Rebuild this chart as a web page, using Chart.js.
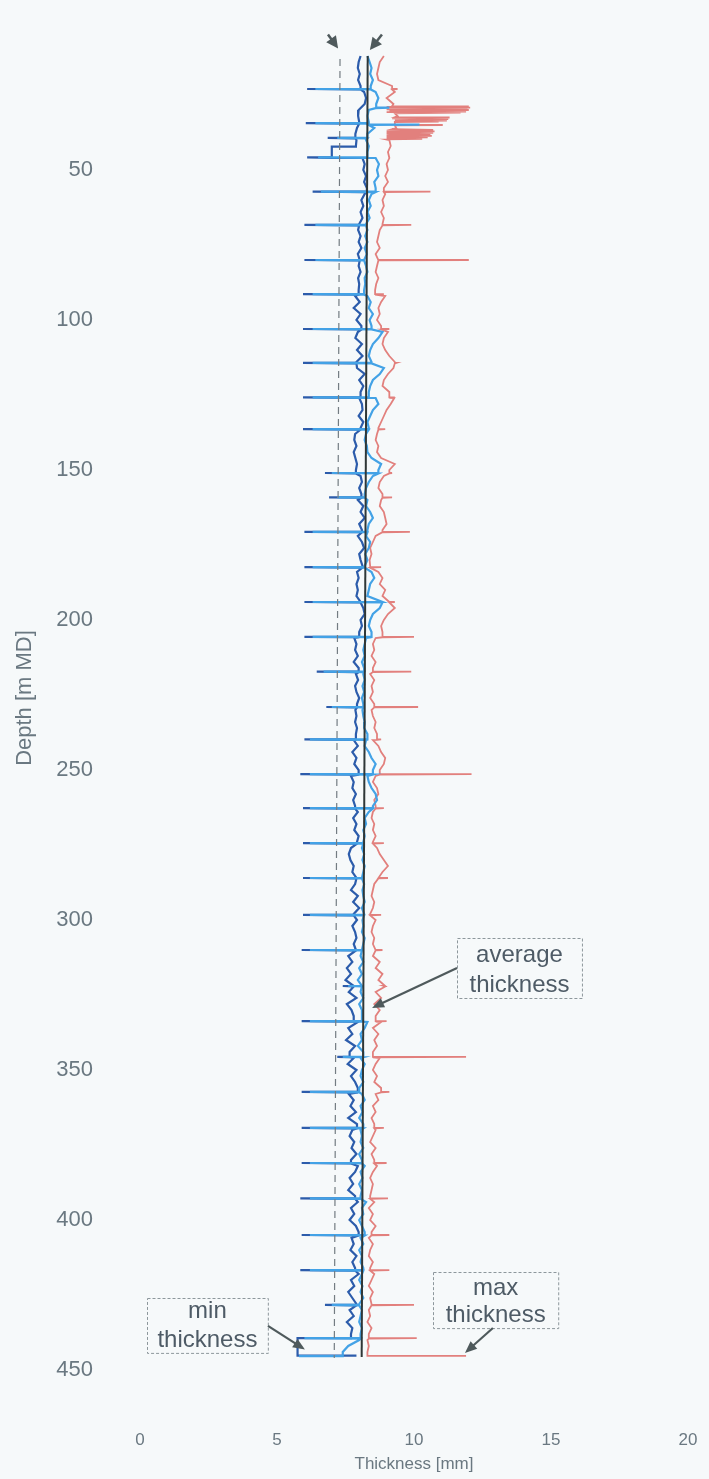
<!DOCTYPE html>
<html><head><meta charset="utf-8">
<script src="https://cdn.jsdelivr.net/npm/chart.js@4.4.0/dist/chart.umd.min.js"></script>
<style>html,body{margin:0;padding:0;background:#f6f9fa;} canvas{display:block;}</style>
</head><body>
<canvas id="c" width="709" height="1479"></canvas>
<script>
// ---------- DATA ----------
const xTicks = [0, 5, 10, 15, 20];
const yTicks = [50, 100, 150, 200, 250, 300, 350, 400, 450];

const depthGrid = [
12,14,16,18,20,22,24,26,28,30,
32,34,36,38,40,42,44,46,48,50,
52,54,56,58,60,62,64,66,68,70,
72,74,76,78,80,82,84,86,88,90,
92,94,96,98,100,102,104,106,108,110,
112,114,116,118,120,122,124,126,128,130,
132,134,136,138,140,142,144,146,148,150,
152,154,156,158,160,162,164,166,168,170,
172,174,176,178,180,182,184,186,188,190,
192,194,196,198,200,202,204,206,208,210,
212,214,216,218,220,222,224,226,228,230,
232,234,236,238,240,242,244,246,248,250,
252,254,256,258,260,262,264,266,268,270,
272,274,276,278,280,282,284,286,288,290,
292,294,296,298,300,302,304,306,308,310,
312,314,316,318,320,322,324,326,328,330,
332,334,336,338,340,342,344,346,348,350,
352,354,356,358,360,362,364,366,368,370,
372,374,376,378,380,382,384,386,388,390,
392,394,396,398,400,402,404,406,408,410,
412,414,416,418,420,422,424,426,428,430,
432,434,436,438,440,442,444];

// min thickness (dark blue) baseline
const minBase = [
8.05,7.98,7.95,8.02,7.96,8.05,8.18,8.25,8.2,7.98,
7.96,8.0,7.92,7.86,7.9,7.88,7.0,8.12,8.2,8.15,
8.25,8.18,8.28,8.2,8.08,8.15,8.05,8.12,8.0,7.96,
8.05,7.98,8.08,7.95,8.02,7.98,8.05,7.96,8.0,7.98,
7.85,8.02,7.8,8.05,7.9,8.08,7.95,7.86,8.1,7.92,
8.12,7.9,7.92,8.2,8.0,8.15,8.05,8.0,8.1,8.12,
7.98,8.15,8.05,7.85,7.82,7.9,7.8,7.86,7.92,7.88,
8.05,8.1,8.0,8.08,7.95,8.15,8.05,8.2,8.0,8.1,
7.95,8.1,8.18,8.0,8.05,8.12,7.92,7.98,7.9,7.95,
7.9,8.05,8.15,8.2,8.05,8.1,8.0,7.82,7.9,7.85,
7.95,7.8,7.98,7.88,7.96,7.85,7.9,8.0,7.92,7.86,
7.9,7.85,7.92,7.88,7.8,7.95,7.75,7.9,7.82,7.98,
7.7,7.8,7.75,7.88,7.78,7.85,7.95,7.78,7.9,7.82,
7.98,7.92,7.7,7.62,7.68,7.8,7.75,7.9,7.85,7.7,
7.95,7.78,8.0,7.8,7.92,7.75,7.85,7.9,7.8,7.88,
7.6,7.75,7.55,7.7,7.5,7.8,7.62,7.9,7.55,7.72,
7.8,7.95,7.6,7.75,7.52,7.85,7.65,7.8,7.58,7.9,
7.7,7.85,7.95,7.62,7.8,7.68,7.88,7.6,7.92,7.75,
7.65,7.82,7.72,7.9,7.7,7.95,7.85,7.65,7.78,7.6,
7.85,7.95,7.7,7.82,7.65,7.88,7.98,7.72,7.8,7.68,
7.9,7.75,7.85,7.98,7.7,7.82,7.6,7.75,7.9,7.65,
7.8,7.55,7.75,7.7,5.75,5.75,5.75];

// mid (light blue) baseline
const midBase = [
8.3,8.38,8.45,8.4,8.5,8.42,8.6,8.7,8.62,8.35,
8.3,8.35,8.55,8.3,8.25,8.35,8.3,8.6,8.72,8.65,
8.7,8.55,8.6,8.45,8.35,8.42,8.3,8.38,8.25,8.3,
8.22,8.3,8.2,8.28,8.18,8.25,8.3,8.2,8.22,8.18,
8.3,8.42,8.35,8.5,8.38,8.45,8.85,8.7,8.5,8.4,
8.35,8.45,8.9,8.75,8.5,8.4,8.35,8.6,8.7,8.5,
8.4,8.3,8.35,8.25,8.2,8.28,8.3,8.45,8.8,8.7,
8.5,8.35,8.25,8.2,8.3,8.25,8.4,8.5,8.35,8.3,
8.25,8.4,8.35,8.22,8.3,8.2,8.45,8.55,8.4,8.35,
8.3,8.85,8.75,8.5,8.4,8.35,8.45,8.25,8.2,8.15,
8.2,8.1,8.18,8.15,8.2,8.12,8.18,8.1,8.15,8.12,
8.15,8.2,8.18,8.3,8.25,8.2,8.35,8.45,8.6,8.5,
8.3,8.35,8.45,8.6,8.65,8.5,8.35,8.2,8.25,8.15,
8.2,8.15,8.1,8.18,8.12,8.2,8.15,8.1,8.18,8.12,
8.15,8.2,8.1,8.18,8.12,8.15,8.1,8.2,8.15,8.1,
8.05,8.15,8.0,8.1,7.95,8.1,8.05,8.15,8.0,8.1,
8.1,8.3,8.2,8.05,8.1,7.95,8.15,8.05,8.2,8.1,
8.05,8.15,8.0,8.1,8.2,8.05,8.12,8.0,8.15,8.05,
8.1,8.05,8.15,8.0,8.1,8.2,8.05,8.12,8.0,8.1,
8.05,8.25,8.1,8.15,8.0,8.1,8.2,8.05,8.15,8.0,
8.1,8.05,8.15,8.1,8.0,8.12,8.05,8.15,8.0,8.1,
8.05,8.0,8.1,8.05,8.0,7.6,7.4];

// max thickness (red) baseline
const maxBase = [
8.9,8.75,8.7,8.65,8.7,9.2,9.3,9.0,9.25,9.5,
9.4,9.3,9.35,9.2,9.1,9.15,9.05,9.1,9.0,9.05,
8.95,9.05,8.9,8.95,8.85,8.9,8.8,8.9,8.85,8.75,
8.7,8.65,8.75,8.6,8.7,8.65,8.6,8.7,8.62,8.58,
8.95,8.8,8.7,8.75,8.65,8.8,9.05,8.9,8.85,8.95,
9.1,9.3,9.25,9.05,8.9,8.85,9.1,9.28,9.15,9.0,
8.9,8.8,8.7,8.65,8.6,8.7,8.65,8.8,9.3,9.1,
8.9,8.75,8.7,8.85,8.8,8.75,8.9,8.95,9.0,8.85,
8.6,8.5,8.4,8.45,8.38,8.4,8.7,8.85,8.75,8.95,
8.85,9.1,9.3,9.05,8.9,8.8,8.85,8.6,8.5,8.55,
8.45,8.6,8.5,8.4,8.55,8.45,8.5,8.4,8.55,8.45,
8.5,8.6,8.55,8.65,8.5,8.7,8.8,8.95,8.9,8.75,
8.6,8.5,8.65,8.7,8.55,8.6,8.5,8.45,8.55,8.5,
8.6,8.5,8.65,8.75,8.9,9.05,8.85,8.7,8.55,8.5,
8.45,8.55,8.5,8.4,8.6,8.5,8.45,8.55,8.5,8.6,
8.5,8.75,8.6,8.85,8.7,8.95,8.6,8.8,8.55,8.75,
8.6,8.8,8.5,8.7,8.55,8.65,8.5,8.75,8.6,8.5,
8.65,8.55,8.8,8.6,8.7,8.5,8.6,8.45,8.55,8.6,
8.5,8.4,8.6,8.45,8.55,8.65,8.5,8.4,8.5,8.45,
8.4,8.55,8.35,8.5,8.4,8.6,8.45,8.35,8.5,8.4,
8.35,8.5,8.4,8.55,8.45,8.35,8.5,8.4,8.45,8.35,
8.4,8.3,8.45,8.35,8.3,8.35,8.3];

// casing-joint spikes
const jointDepth = [23.0,34.4,39.3,45.8,57.2,68.3,80.0,91.4,103.0,114.3,125.8,136.4,151.0,159.1,170.6,182.4,194.0,205.6,217.2,229.0,239.8,251.4,262.7,274.4,286.0,298.3,310.0,322.0,333.7,345.6,357.3,369.3,381.0,392.8,405.0,416.7,428.3,439.4];
const minSpike = [6.1,6.05,6.85,6.1,6.3,6.0,6.0,5.95,5.95,5.95,5.95,5.95,6.75,6.9,6.0,6.0,6.0,6.0,6.45,6.8,6.0,5.85,5.95,5.95,5.95,5.95,5.9,7.4,5.9,7.2,5.9,5.9,5.9,5.85,5.9,5.85,6.75,null];
const midSpike = [6.4,6.4,7.2,6.5,6.6,6.4,6.4,6.3,6.3,6.3,6.3,6.3,7.0,7.2,6.3,6.3,6.3,6.3,6.7,7.0,6.2,6.2,6.2,6.2,6.2,6.2,6.2,7.6,6.2,7.4,6.2,6.2,6.2,6.2,6.2,6.2,7.0,6.0];
const maxSpike = [9.4,null,null,null,10.6,9.9,12.0,8.9,9.1,9.35,9.3,8.95,9.2,9.2,9.85,8.8,9.3,10.0,9.9,10.15,8.8,12.1,8.9,8.9,9.05,8.8,8.85,8.9,9.0,11.9,9.1,8.9,9.0,9.05,9.1,9.1,10.0,10.1];

// extra traced points (boxes, bands, ends)
const minExtraDepth = [42.2,42.2,439.4,439.4,445.2,445.2];
const minExtraVal   = [7.88,7.0,7.7,5.75,5.75,7.9];
const midExtraDepth = [29.1,29.2,29.4,34.8,34.9,35.0,445.4,445.4];
const midExtraVal   = [8.62,9.1,8.6,8.35,10.2,8.35,7.4,5.8];
const maxExtraDepth = [28.7,28.8,29.0,29.2,29.4,29.6,29.8,30.0,30.3,30.5,30.7,30.9,31.1,
  32.4,32.5,32.8,33.0,33.3,33.5,33.8,33.9,34.0,34.9,35.0,35.1,
  36.4,36.6,36.9,37.1,37.4,37.6,37.9,38.1,38.4,38.6,38.9,39.1,39.4,39.6,39.8,445.3,445.3];
const maxExtraVal = [9.2,12.0,9.0,12.05,9.1,11.95,9.0,12.0,9.1,11.9,9.0,11.7,9.3,
  9.3,11.3,9.2,11.25,9.3,11.2,9.3,10.9,9.3,9.3,11.05,9.3,
  9.2,10.7,9.0,10.75,9.0,10.7,9.0,10.6,9.0,10.65,9.0,10.5,9.0,10.3,9.0,8.3,11.9];

const avgDepth = [12, 445.7];
const avgVal = [8.31, 8.09];
const dashDepth = [13, 446];
const dashVal = [7.30, 7.09];

// ---------- BUILD POINTS ----------
function buildSeries(base, spikes, exD, exV) {
  const extras = [];
  jointDepth.forEach((d, i) => {
    const s = spikes[i];
    if (s === null || s === undefined) return;
    let b = base[0];
    for (let k = 0; k < depthGrid.length; k++) if (depthGrid[k] <= d) b = base[k];
    extras.push({x: b, y: d}, {x: s, y: d}, {x: b, y: d + 0.15});
  });
  exD.forEach((d, i) => extras.push({x: exV[i], y: d}));
  extras.sort((a, b) => a.y - b.y);
  const pts = [];
  let j = 0;
  for (let i = 0; i < depthGrid.length; i++) {
    while (j < extras.length && extras[j].y < depthGrid[i]) pts.push(extras[j++]);
    pts.push({x: base[i], y: depthGrid[i]});
  }
  while (j < extras.length) pts.push(extras[j++]);
  return pts;
}
const pair = (d, v) => d.map((dd, i) => ({x: v[i], y: dd}));

const FONT = "'Liberation Sans', Arial, Helvetica, sans-serif";
const TXT = '#6a7881';

const annot = {
  id: 'annot',
  afterDatasetsDraw(chart) {
    const {ctx, scales: {x, y}} = chart;
    const X = v => x.getPixelForValue(v), Y = d => y.getPixelForValue(d);
    ctx.save();
    const col = '#4f5a5c';
    function arrow(x1, y1, x2, y2, w, hl, hw) {
      const a = Math.atan2(y2 - y1, x2 - x1);
      ctx.strokeStyle = col; ctx.fillStyle = col; ctx.lineWidth = w; ctx.setLineDash([]);
      ctx.beginPath(); ctx.moveTo(x1, y1);
      ctx.lineTo(x2 - Math.cos(a) * hl * 0.8, y2 - Math.sin(a) * hl * 0.8); ctx.stroke();
      ctx.beginPath(); ctx.moveTo(x2, y2);
      ctx.lineTo(x2 - Math.cos(a) * hl + Math.sin(a) * hw, y2 - Math.sin(a) * hl - Math.cos(a) * hw);
      ctx.lineTo(x2 - Math.cos(a) * hl - Math.sin(a) * hw, y2 - Math.sin(a) * hl + Math.cos(a) * hw);
      ctx.closePath(); ctx.fill();
    }
    function box(x1, d1, x2, d2, lines) {
      ctx.strokeStyle = '#8d979c'; ctx.lineWidth = 1; ctx.setLineDash([3, 2]);
      ctx.strokeRect(Math.round(X(x1)) + 0.5, Math.round(Y(d1)) + 0.5, X(x2) - X(x1), Y(d2) - Y(d1));
      ctx.setLineDash([]);
      ctx.fillStyle = '#4e5b66'; ctx.font = '24px ' + FONT;
      ctx.textAlign = 'center'; ctx.textBaseline = 'middle';
      lines.forEach(l => ctx.fillText(l[0], X(l[1]), Y(l[2])));
    }
    // top arrows
    arrow(X(6.86), Y(4.8), X(7.23), Y(9.5), 2.5, 12, 6);
    arrow(X(8.83), Y(4.8), X(8.39), Y(10.0), 2.5, 12, 6);
    // average
    box(11.57, 306, 16.13, 326, [['average', 13.85, 311.8], ['thickness', 13.85, 321.8]]);
    arrow(X(11.57), Y(316), X(8.47), Y(329.3), 2.2, 12, 5);
    // min
    box(0.26, 426, 4.67, 444.3, [['min', 2.46, 430.5], ['thickness', 2.46, 440.2]]);
    arrow(X(4.67), Y(435.3), X(6.02), Y(443.2), 2.2, 12, 5);
    // max
    box(10.69, 417.3, 15.26, 436, [['max', 12.98, 422.9], ['thickness', 12.98, 431.9]]);
    arrow(X(12.88), Y(436), X(11.86), Y(444.3), 2.2, 12, 5);
    ctx.restore();
  }
};

const common = {showLine: true, pointRadius: 0, fill: false, tension: 0};

new Chart(document.getElementById('c'), {
  type: 'scatter',
  data: {
    datasets: [
      {...common, label: 'average', data: pair(avgDepth, avgVal), borderColor: '#2f3737', borderWidth: 2},
      {...common, label: 'nominal', data: pair(dashDepth, dashVal), borderColor: '#737c82', borderWidth: 1.2, borderDash: [7, 5]},
      {...common, label: 'mid', data: buildSeries(midBase, midSpike, midExtraDepth, midExtraVal), borderColor: '#43a2e6', borderWidth: 2.2},
      {...common, label: 'min', data: buildSeries(minBase, minSpike, minExtraDepth, minExtraVal), borderColor: '#2c5cab', borderWidth: 2.2},
      {...common, label: 'max', data: buildSeries(maxBase, maxSpike, maxExtraDepth, maxExtraVal), borderColor: '#e2807d', borderWidth: 1.8}
    ]
  },
  options: {
    responsive: false, animation: false, devicePixelRatio: 1,
    layout: {padding: {top: 20, right: 21, left: 0, bottom: 0}},
    plugins: {legend: {display: false}, tooltip: {enabled: false}},
    scales: {
      x: {
        type: 'linear', min: 0, max: 20,
        grid: {display: false, drawTicks: false}, border: {display: false},
        afterBuildTicks: s => { s.ticks = xTicks.map(v => ({value: v})); },
        afterFit: s => { s.height = 103; s.paddingLeft = 0; s.paddingRight = 0; },
        ticks: {color: TXT, font: {family: FONT, size: 17}, padding: 54, maxRotation: 0},
        title: {display: true, text: 'Thickness [mm]', color: TXT, font: {family: FONT, size: 17}, padding: {top: 0, bottom: 4}}
      },
      y: {
        type: 'linear', min: 0, max: 452, reverse: true,
        grid: {display: false, drawTicks: false}, border: {display: false},
        afterBuildTicks: s => { s.ticks = yTicks.map(v => ({value: v})); },
        afterFit: s => { s.width = 140; s.paddingTop = 0; s.paddingBottom = 0; },
        ticks: {color: TXT, font: {family: FONT, size: 22}, padding: 47},
        title: {display: true, text: 'Depth [m MD]', color: TXT, font: {family: FONT, size: 22}, padding: {top: 12, bottom: 0}}
      }
    }
  },
  plugins: [annot]
});
</script></body></html>
